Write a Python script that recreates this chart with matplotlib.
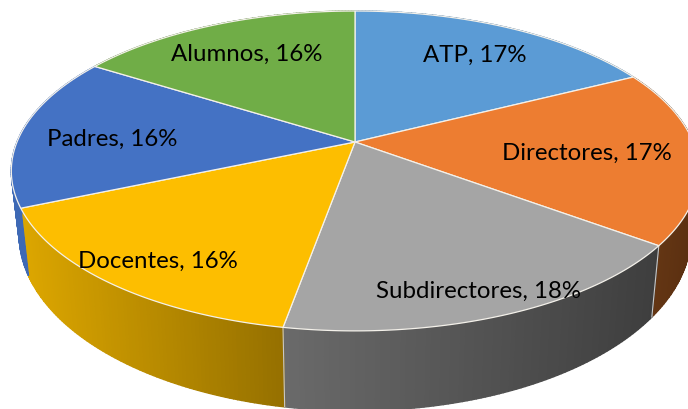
import numpy as np
import matplotlib
matplotlib.use('Agg')
import matplotlib.pyplot as plt
from matplotlib.colors import to_rgb

plt.rcParams['font.family'] = ['Lato', 'DejaVu Sans']

names = ['ATP', 'Directores', 'Subdirectores', 'Docentes', 'Padres', 'Alumnos']
pct_labels = [17, 17, 18, 16, 16, 16]
# slice sizes, a bit finer than the rounded labels
sizes = [17.5, 17.7, 17.6, 15.7, 15.5, 16.0]
top_colors = ['#5B9BD5', '#ED7D31', '#A5A5A5', '#FDBE00', '#4472C4', '#70AD47']
side_left = ['#3F6E99', '#6A3A16', '#6A6A6A', '#DCA600', '#3E69B5', '#4E7A30']
side_right = ['#3F6E99', '#5A2F10', '#3E3E3E', '#957000', '#3E69B5', '#4E7A30']
label_xy = [(475, 55), (587, 153), (478, 291), (158, 261), (112, 139), (247, 54)]

cx, cy = 355, 143
rx, ry = 338, 154.7
persp = 0.181


def top_face(ang):
    # ang clockwise from 12 o'clock, disc tipped back in perspective
    X, Y = np.sin(ang), np.cos(ang)
    w = 1 + persp * Y
    return cx + rx * X / w, cy - ry * Y / w


def bottom_face(x, y):
    return cx + (x - cx) * 0.977, y + 61 + 0.1 * (y - cy)


fig = plt.figure(figsize=(6.88, 4.10), dpi=100)
ax = fig.add_axes([0, 0, 1, 1])
ax.set_xlim(0, 688)
ax.set_ylim(410, 0)
ax.axis('off')

edges = np.cumsum([0] + sizes) / sum(sizes) * 2 * np.pi

# sides first, the top face covers whatever sits behind it
for i in range(len(sizes)):
    ang = np.linspace(edges[i], edges[i + 1], 90)
    x, y = top_face(ang)
    bx, by = bottom_face(x, y)
    c0, c1 = np.array(to_rgb(side_left[i])), np.array(to_rgb(side_right[i]))
    xmin, xmax = x.min(), x.max()
    for j in range(len(ang) - 1):
        t = ((x[j] + x[j + 1]) / 2 - xmin) / (xmax - xmin)
        col = c0 + (c1 - c0) * t
        ax.fill([x[j], x[j + 1], bx[j + 1], bx[j]], [y[j], y[j + 1], by[j + 1], by[j]],
                color=col, lw=1.0, zorder=1)
    # light seam on the slice boundary
    if 0.5 * np.pi < edges[i] < 1.3 * np.pi:
        ax.plot([x[0], bx[0]], [y[0], by[0]], color='#C8C8C8', lw=0.8, zorder=2)

for i in range(len(sizes)):
    ang = np.linspace(edges[i], edges[i + 1], 90)
    x, y = top_face(ang)
    ax.fill(np.r_[cx, x], np.r_[cy, y], facecolor=top_colors[i], edgecolor='#F4F1EA', lw=0.9, zorder=3)

for name, pct, (lx, ly) in zip(names, pct_labels, label_xy):
    ax.text(lx, ly, '%s, %d%%' % (name, pct), fontsize=17.3, color='black', ha='center', va='center', zorder=4)

fig.savefig('out.png', dpi=100)
